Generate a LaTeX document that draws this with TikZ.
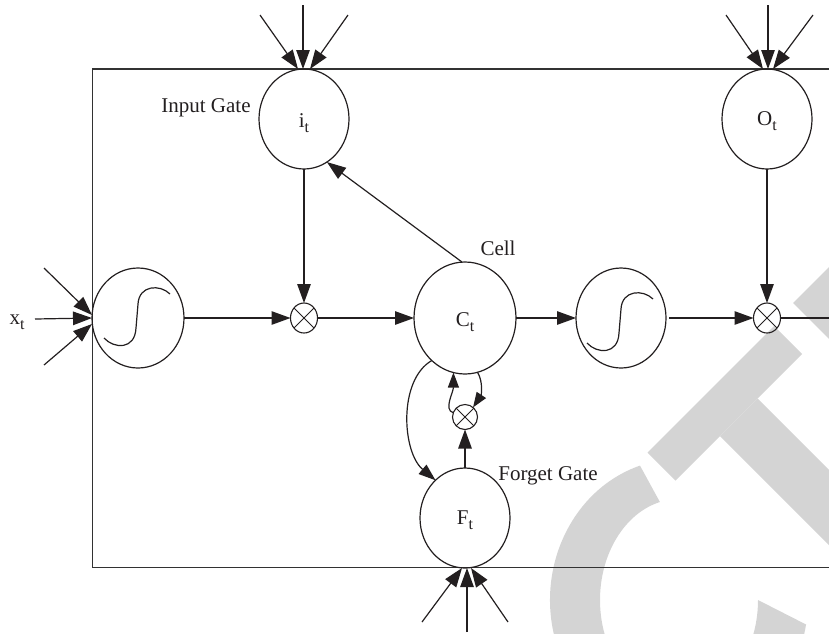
\documentclass[tikz,border=0pt]{standalone}
\usepackage{fontspec}
\setmainfont{Liberation Serif}
\usetikzlibrary{arrows.meta,shapes.geometric}
\definecolor{ink}{RGB}{35,31,32}
\definecolor{framegray}{RGB}{50,50,50}
\definecolor{wmgray}{RGB}{212,212,212}
% letter with a lowered "t" subscript
\newcommand{\subtee}[1]{#1\raisebox{-5pt}{\fontsize{16}{16}\selectfont t}}

\begin{document}
\begin{tikzpicture}[x=1pt,y=1pt,
  every node/.style={inner sep=0pt, outer sep=0pt},
  gatecircle/.style={draw=ink, line width=1.2pt, ellipse, minimum width=90pt, minimum height=100pt},
  prodnode/.style={draw=ink, line width=1.1pt, ellipse, minimum width=27pt, minimum height=30pt},
  lbl/.style={font=\fontsize{21}{24}\selectfont, text=ink, anchor=base},
  conn/.style={draw=ink, line width=1.2pt, -{Triangle[length=19pt,width=13.5pt]}},
  midconn/.style={draw=ink, line width=1.2pt, -{Triangle[length=17pt,width=12pt]}},
  loopconn/.style={draw=ink, line width=1.2pt, -{Triangle[length=15pt,width=11pt]}},
  wire/.style={draw=ink, line width=1.2pt},
  cellframe/.style={draw=framegray, line width=1.4pt},
  sigm/.style={draw=ink, line width=1.2pt},
]
\useasboundingbox (0,0) rectangle (829,-633);
\clip (0,0) rectangle (829,-633);

% light grey logo in the background
\fill[wmgray] (647.5,-452.5) -- (675.5,-480.5) -- (802,-354) -- (774,-326) -- cycle;
\fill[wmgray] (720,-436) -- (757.5,-398.5) -- (979.5,-620.5) -- (942,-658) -- cycle;
\fill[wmgray] (793,-303) -- (900,-196) -- (1000,-300) -- (900,-410) -- cycle;
\fill[wmgray] (640,-465.6) arc[start angle=107.6, end angle=350, x radius=129, y radius=141]
  -- (758,-600) arc[start angle=360, end angle=104, x radius=79, y radius=101] -- cycle;

% the memory block
\draw[cellframe] (92.5,-69) rectangle (900,-567.5);

% gates, cell and squashing units
\node[gatecircle] (itg) at (304,-119) {};
\node[gatecircle] (otg) at (767,-119) {};
\node[gatecircle, minimum width=102pt, minimum height=112pt] (ctl) at (465,-318) {};
\node[gatecircle] (ftg) at (465,-518) {};
\node[gatecircle, minimum width=92pt] (th1) at (138,-318) {};
\node[gatecircle] (th2) at (621,-318) {};

% multiplication units
\node[prodnode] (m1) at (304,-318) {};
\node[prodnode] (m2) at (767,-318) {};
\node[prodnode, minimum width=25pt, minimum height=25pt] (m3) at (465,-417) {};
\foreach \m in {m1,m2,m3}
  \draw[wire, line width=1pt] (\m.45) -- (\m.225) (\m.135) -- (\m.315);

% sigmoid curves
\draw[sigm, shift={(th1.center)}] (32,24) .. controls (22,34) and (1,33) .. (0,14)
  -- (-2,-10) .. controls (-3,-32) and (-24,-31) .. (-34,-20);
\draw[sigm, shift={(th2.center)}, yshift=-5] (32,24) .. controls (22,34) and (1,33) .. (0,14)
  -- (-2,-10) .. controls (-3,-32) and (-24,-31) .. (-34,-20);

% texts
\node[lbl] (itxt) at (304,-127) {\subtee{i}};
\node[lbl] (otxt) at (767,-125.5) {\subtee{O}};
\node[lbl] (ctxt) at (465,-326) {\subtee{C}};
\node[lbl] (ftxt) at (465,-524.5) {\subtee{F}};
\node[lbl] (xtxt) at (17,-324) {\subtee{x}};
\node[lbl] (ilab) at (206,-112) {Input Gate};
\node[lbl] (clab) at (498,-255) {Cell};
\node[lbl] (flab) at (548,-480) {Forget Gate};

% external inputs
\coordinate (xa) at (44,-268);
\coordinate (xb) at (35,-319);
\coordinate (xc) at (44,-365);
\draw[conn] (xa) -- ([yshift=3]th1.west);
\draw[conn] (xb) -- (th1.west);
\draw[conn] (xc) -- ([yshift=-6]th1.west);

\coordinate (ia) at (260,-15);
\coordinate (ib) at (303,-5);
\coordinate (ic) at (348,-15);
\draw[conn] (ia) -- ([xshift=-6]itg.north);
\draw[conn] (ib) -- ([xshift=-1]itg.north);
\draw[conn] (ic) -- ([xshift=6]itg.north);

\coordinate (oa) at (726,-15);
\coordinate (ob) at (768,-5);
\coordinate (oc) at (813,-15);
\draw[conn] (oa) -- ([xshift=-4]otg.north);
\draw[conn] (ob) -- ([xshift=1]otg.north);
\draw[conn] (oc) -- ([xshift=6]otg.north);

\coordinate (fa) at (422,-622);
\coordinate (fb) at (467,-632);
\coordinate (fc) at (508,-622);
\draw[conn] (fa) -- ([xshift=-3]ftg.south);
\draw[conn] (fb) -- ([xshift=2]ftg.south);
\draw[conn] (fc) -- ([xshift=6]ftg.south);

% internal flow
\draw[conn] (th1.east) -- (m1.west);
\draw[conn] (m1.east) -- (ctl.west);
\draw[conn] (itg.south) -- (m1.north);
\draw[conn] (ctl.93) -- (itg.-62);
\draw[conn] (ctl.east) -- (th2.west);
\draw[conn, shorten <=3pt] (th2.east) -- (m2.west);
\draw[conn] (otg.south) -- (m2.north);
\coordinate (hout) at (840,-318);
\draw[wire] (m2.east) -- (hout);
\draw[conn] (ftg.north) -- (m3.south);
\draw[loopconn] (m3.160) .. controls +(-10,3) and +(0,-20) .. (ctl.258);
\draw[loopconn] (ctl.283) .. controls +(6,-10) and +(8,12) .. (m3.50);
\draw[midconn] (ctl.232) .. controls (398,-380) and (402,-452) .. (ftg.128);
\end{tikzpicture}
\end{document}
